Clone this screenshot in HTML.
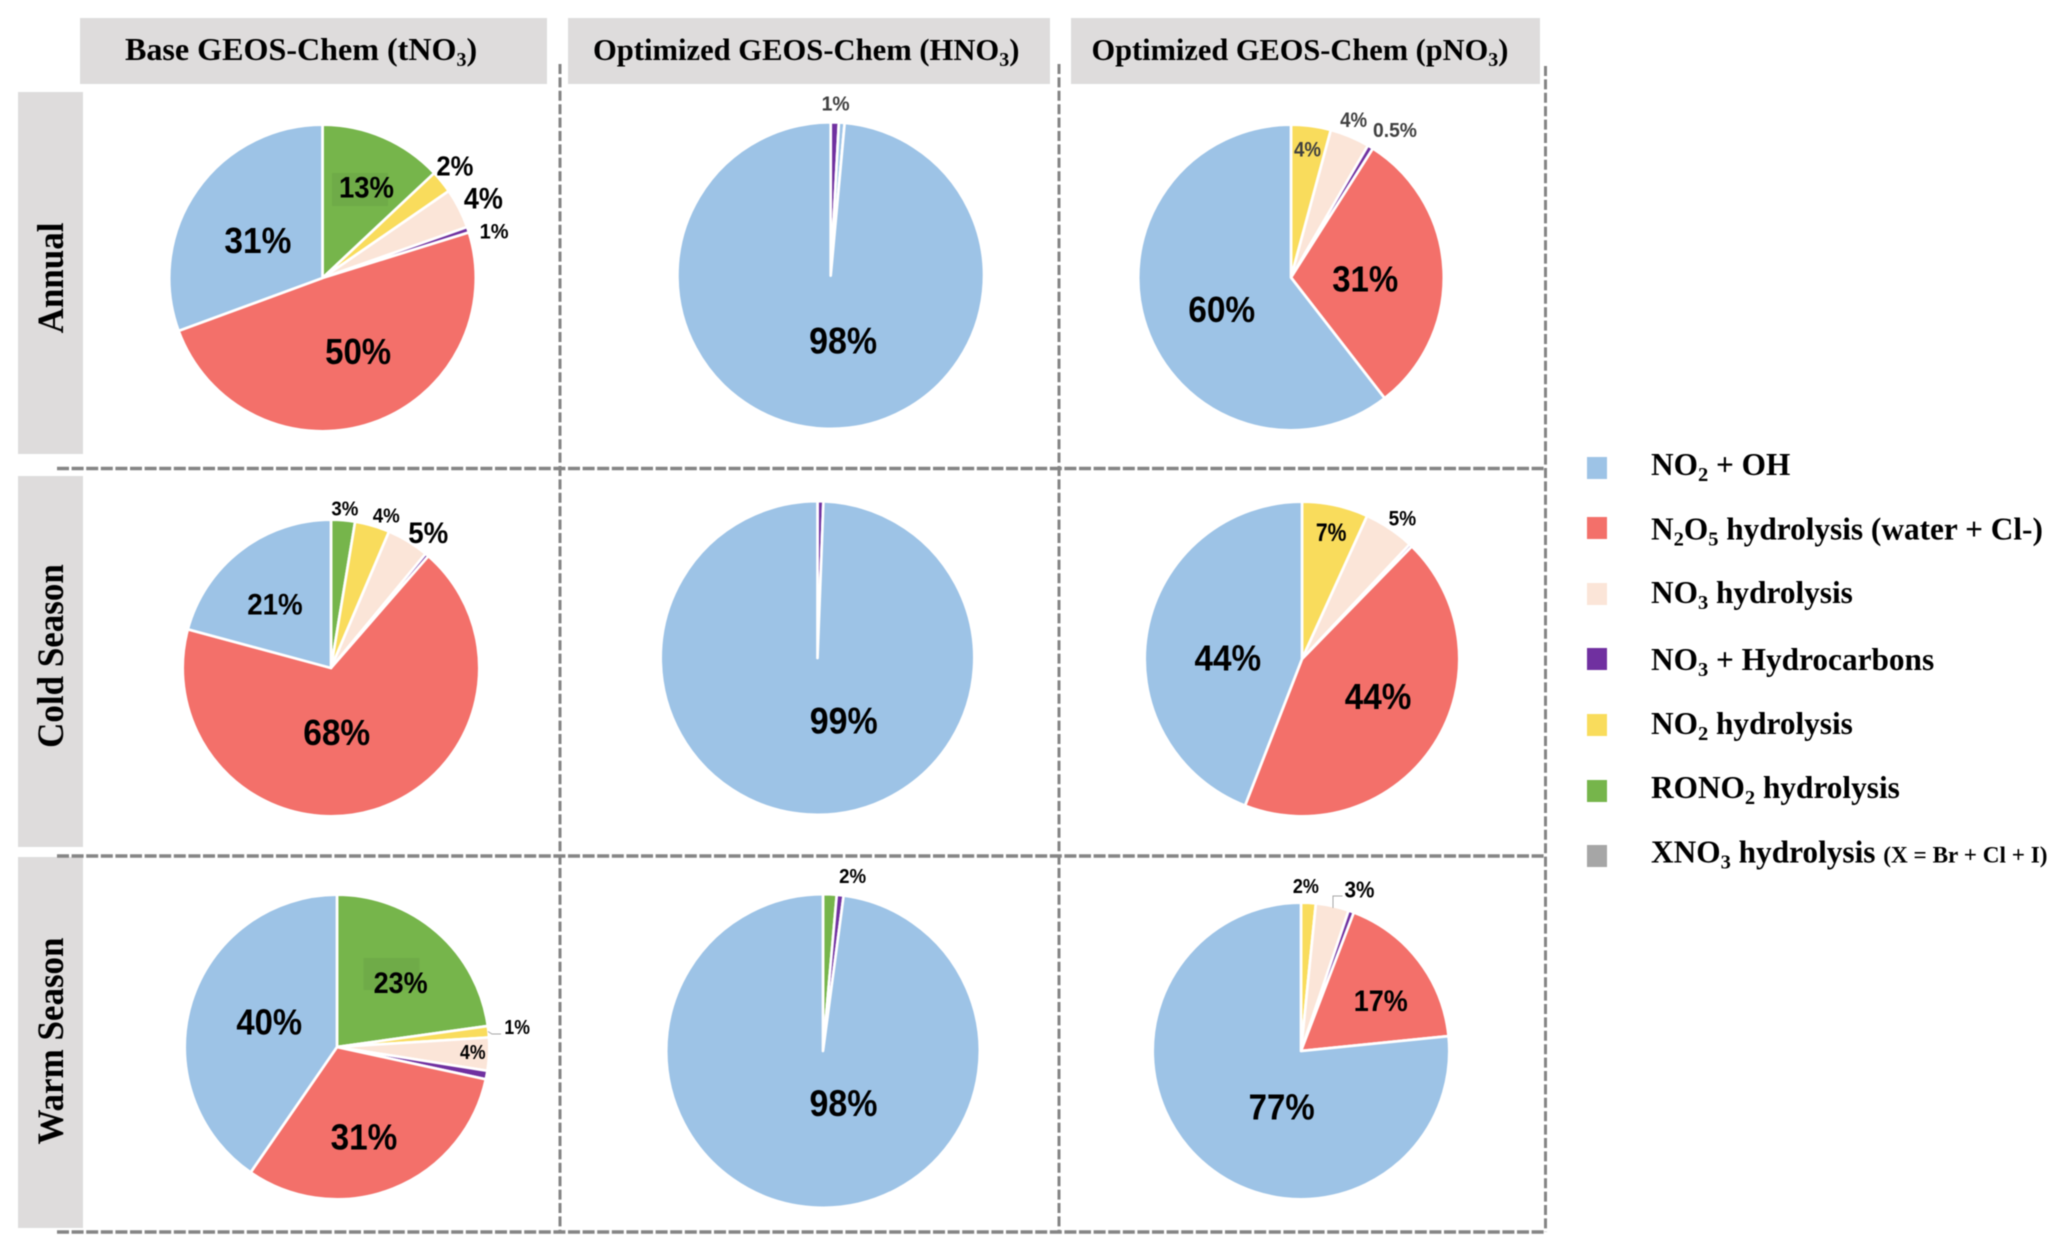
<!DOCTYPE html>
<html lang="en">
<head>
<meta charset="utf-8">
<title>Nitrate formation pathways</title>
<style>
html,body{margin:0;padding:0;background:#fff;width:2067px;height:1253px;overflow:hidden}
svg{display:block;filter:blur(.6px)}
.serif{font-family:"Liberation Serif",serif;font-weight:700;fill:#000}
.pct{font-family:"Liberation Sans",sans-serif;font-weight:700;text-anchor:middle}
</style>
</head>
<body>
<svg id="figure" xmlns="http://www.w3.org/2000/svg" width="2067" height="1253" viewBox="0 0 2067 1253">
  <g>
    <rect x="80" y="18" width="467" height="66" fill="#dedcdc"/>
    <rect x="568" y="18" width="482" height="66" fill="#dedcdc"/>
    <rect x="1071" y="18" width="469" height="66" fill="#dedcdc"/>
    <text class="serif" x="125" y="60" font-size="32.1">Base GEOS-Chem (tNO<tspan dy="6" font-size="20">3</tspan><tspan dy="-6">)</tspan></text>
    <text class="serif" x="593" y="60" font-size="30.6">Optimized GEOS-Chem (HNO<tspan dy="6" font-size="20">3</tspan><tspan dy="-6">)</tspan></text>
    <text class="serif" x="1091.5" y="60" font-size="30.4">Optimized GEOS-Chem (pNO<tspan dy="6" font-size="20">3</tspan><tspan dy="-6">)</tspan></text>
  </g>
  <g>
    <rect x="18" y="92" width="65" height="362" fill="#dedcdc"/>
    <rect x="18" y="476" width="65" height="371" fill="#dedcdc"/>
    <rect x="18" y="857" width="65" height="371" fill="#dedcdc"/>
    <text class="serif" font-size="35" text-anchor="middle" transform="translate(63,278) rotate(-90) scale(1,1.05)">Annual</text>
    <text class="serif" font-size="35" text-anchor="middle" transform="translate(63,656) rotate(-90) scale(1,1.05)">Cold Season</text>
    <text class="serif" font-size="35" text-anchor="middle" transform="translate(63,1041) rotate(-90) scale(1,1.05)">Warm Season</text>
  </g>
  <g stroke="#858585" stroke-width="3.4" fill="none">
    <line x1="57" y1="468.5" x2="1545" y2="468.5" stroke-dasharray="12 2.6"/>
    <line x1="57" y1="856" x2="1545" y2="856" stroke-dasharray="12 2.6"/>
    <line x1="57" y1="1232" x2="1545" y2="1232" stroke-dasharray="12 2.6"/>
    <line x1="560" y1="64" x2="560" y2="1232" stroke-dasharray="10 3.4" stroke-width="3"/>
    <line x1="1059" y1="64" x2="1059" y2="1232" stroke-dasharray="10 3.4" stroke-width="3"/>
    <line x1="1545.5" y1="66" x2="1545.5" y2="1232" stroke-dasharray="10 3.4" stroke-width="3"/>
  </g>
  <g id="slices"></g>
  <rect x="332" y="173" width="56" height="33" fill="#6fab48"/>
  <rect x="363.5" y="958" width="56" height="32" fill="#6fab48"/>
  <polyline points="488,1031.5 492,1034 501,1034" fill="none" stroke="#a6a6a6" stroke-width="1"/>
  <polyline points="1333,908 1333,896 1342.5,896" fill="none" stroke="#a6a6a6" stroke-width="1"/>
  <g id="labels"></g>
  <g>
    <g>
      <rect x="1587" y="457" width="20" height="22" fill="#9dc3e6"/>
      <text class="serif" x="1651" y="475" font-size="31.3">NO<tspan dy="6" font-size="20.5">2</tspan><tspan dy="-6"> + OH</tspan></text>
    </g>
    <g>
      <rect x="1587" y="517" width="20" height="22" fill="#f3706a"/>
      <text class="serif" x="1651" y="539.5" font-size="31.3">N<tspan dy="6" font-size="20.5">2</tspan><tspan dy="-6">O</tspan><tspan dy="6" font-size="20.5">5</tspan><tspan dy="-6"> hydrolysis (water + Cl-)</tspan></text>
    </g>
    <g>
      <rect x="1587" y="583" width="20" height="22" fill="#fbe5d8"/>
      <text class="serif" x="1651" y="603" font-size="31.3">NO<tspan dy="6" font-size="20.5">3</tspan><tspan dy="-6"> hydrolysis</tspan></text>
    </g>
    <g>
      <rect x="1587" y="648" width="20" height="22" fill="#7030a0"/>
      <text class="serif" x="1651" y="670" font-size="31.3">NO<tspan dy="6" font-size="20.5">3</tspan><tspan dy="-6"> + Hydrocarbons</tspan></text>
    </g>
    <g>
      <rect x="1587" y="714" width="20" height="22" fill="#f9dc5c"/>
      <text class="serif" x="1651" y="734" font-size="31.3">NO<tspan dy="6" font-size="20.5">2</tspan><tspan dy="-6"> hydrolysis</tspan></text>
    </g>
    <g>
      <rect x="1587" y="780" width="20" height="22" fill="#76b54b"/>
      <text class="serif" x="1651" y="798" font-size="31.3">RONO<tspan dy="6" font-size="20.5">2</tspan><tspan dy="-6"> hydrolysis</tspan></text>
    </g>
    <g>
      <rect x="1587" y="845" width="20" height="22" fill="#a6a6a6"/>
      <text class="serif" x="1651" y="862.5" font-size="31.3">XNO<tspan dy="6" font-size="20.5">3</tspan><tspan dy="-6"> hydrolysis </tspan><tspan font-size="23.2">(X = Br + Cl + I)</tspan></text>
    </g>
  </g>
</svg>
<script>
// Slice order, clockwise from 12 o'clock.
const categories = ['RONO2 hydrolysis', 'NO2 hydrolysis', 'NO3 hydrolysis', 'NO3 + Hydrocarbons', 'NO2 + OH minor', 'N2O5 hydrolysis', 'NO2 + OH'];

// Series values (percent), one array per pie.
const annualBase = [13, 2.4, 4.2, 0.6, 0, 49.2, 30.6];
const annualHno3 = [0, 0, 0, 0.85, 0.6, 0, 98.55];
const annualPno3 = [0, 4.2, 4.2, 0.6, 0, 30.5, 60.5];
const coldBase = [2.6, 3.8, 4.6, 0.4, 0, 67.8, 20.8];
const coldHno3 = [0, 0, 0, 0.6, 0, 0, 99.4];
const coldPno3 = [0, 6.8, 5.2, 0.3, 0, 43.6, 44.1];
const warmBase = [22.8, 1.2, 3.5, 0.9, 0, 31.2, 40.4];
const warmHno3 = [1.4, 0, 0, 0.7, 0, 0, 97.9];
const warmPno3 = [0, 1.6, 3.6, 0.6, 0, 17.6, 76.6];

// Printed labels, one array per pie.
const annualBaseLabels = ['13%', '2%', '4%', '1%', '', '50%', '31%'];
const annualHno3Labels = ['', '', '', '1%', '', '', '98%'];
const annualPno3Labels = ['', '4%', '4%', '0.5%', '', '31%', '60%'];
const coldBaseLabels = ['3%', '4%', '5%', '', '', '68%', '21%'];
const coldHno3Labels = ['', '', '', '', '', '', '99%'];
const coldPno3Labels = ['', '7%', '5%', '', '', '44%', '44%'];
const warmBaseLabels = ['23%', '1%', '4%', '', '', '31%', '40%'];
const warmHno3Labels = ['2%', '', '', '', '', '', '98%'];
const warmPno3Labels = ['', '2%', '3%', '', '', '17%', '77%'];

// Styling and layout, kept apart from the data above.
const sliceColors = ['#76b54b', '#f9dc5c', '#fbe5d8', '#7030a0', '#9dc3e6', '#f3706a', '#9dc3e6'];
const sliceNames = ['slice-rono2-hydrolysis', 'slice-no2-hydrolysis', 'slice-no3-hydrolysis', 'slice-no3-hydrocarbons', 'slice-no2-oh-minor', 'slice-n2o5-hydrolysis', 'slice-no2-oh'];
const DARK = '#404040';
// Label placement per category: [radius fraction, angle nudge from slice middle, font size, text width, colour]
const pies = [
  {values: annualBase, labels: annualBaseLabels, cx: 322.5, cy: 278, r: 152, spots: {0: [.66, 2.6, 30, 55], 1: [1.14, -1.3, 28, 37], 2: [1.18, .8, 30, 39], 3: [1.17, 3.2, 21, 29], 5: [.54, -7, 36, 66], 6: [.49, -5.1, 36, 67]}},
  {values: annualHno3, labels: annualHno3Labels, cx: 830.7, cy: 275.6, r: 152, spots: {3: [1.13, .1, 20, 28, DARK], 6: [.44, -13.3, 37, 68]}},
  {values: annualPno3, labels: annualPno3Labels, cx: 1291, cy: 277.5, r: 151.5, spots: {1: [.85, -.2, 21, 27, DARK], 2: [1.12, -1, 21, 27, DARK], 3: [1.19, 3.9, 20, 44, DARK], 5: [.49, 4.5, 36, 66], 6: [.505, -6.2, 36, 67]}},
  {values: coldBase, labels: coldBaseLabels, cx: 331, cy: 668, r: 147, spots: {0: [1.086, .3, 20, 27], 1: [1.1, 3.8, 20, 27], 2: [1.13, 4.5, 30, 40], 5: [.444, 11.9, 36, 67], 6: [.576, -4, 30, 55.5]}},
  {values: coldHno3, labels: coldHno3Labels, cx: 817.5, cy: 658, r: 155.5, spots: {6: [.442, -23.5, 37, 68]}},
  {values: coldPno3, labels: coldPno3Labels, cx: 1302, cy: 659, r: 156, spots: {1: [.83, .8, 25, 30.6], 2: [1.107, 1.7, 21, 27.5], 5: [.545, -6.2, 36, 66.6], 6: [.476, -10.2, 36, 66.6]}},
  {values: warmBase, labels: warmBaseLabels, cx: 337, cy: 1047, r: 151, spots: {0: [.596, 3.9, 30, 54], 1: [1.2, -.4, 20, 25.5], 2: [.9, -.4, 20, 25.5], 5: [.625, 5, 36, 66.7], 6: [.477, 2.6, 36, 65.7]}},
  {values: warmHno3, labels: warmHno3Labels, cx: 823, cy: 1051, r: 155.5, spots: {0: [1.14, 7.1, 20, 27], 6: [.365, -24.9, 37, 68]}},
  {values: warmPno3, labels: warmPno3Labels, cx: 1301, cy: 1051, r: 147, spots: {1: [1.12, -1.2, 20, 26], 2: [1.167, 7.7, 23, 30], 5: [.64, 5.4, 30, 54], 6: [.406, -23.2, 36, 66]}}
];

const SVG_NS = 'http://www.w3.org/2000/svg';
const sliceLayer = document.getElementById('slices');
const labelLayer = document.getElementById('labels');

function angleScale(value, total) {
  return value / total * 360;
}
function polar(cx, cy, radius, degrees) {
  const a = degrees * Math.PI / 180;
  return [cx + radius * Math.sin(a), cy - radius * Math.cos(a)];
}

pies.forEach(function (pie) {
  const total = pie.values.reduce(function (s, v) { return s + v; }, 0);
  let running = 0;
  pie.values.forEach(function (value, i) {
    const start = angleScale(running, total);
    const end = angleScale(running + value, total);
    const mid = (start + end) / 2;
    running += value;
    if (value > 0) {
      const outer = pie.r + 1.3;
      const p0 = polar(pie.cx, pie.cy, outer, start);
      const p1 = polar(pie.cx, pie.cy, outer, end);
      const large = end - start > 180 ? 1 : 0;
      const path = document.createElementNS(SVG_NS, 'path');
      path.setAttribute('d', 'M' + pie.cx + ' ' + pie.cy + 'L' + p0[0] + ' ' + p0[1] + 'A' + outer + ' ' + outer + ' 0 ' + large + ' 1 ' + p1[0] + ' ' + p1[1] + 'Z');
      path.setAttribute('fill', sliceColors[i]);
      path.setAttribute('stroke', '#fff');
      path.setAttribute('stroke-width', '2.7');
      path.setAttribute('stroke-linejoin', 'round');
      
      
      sliceLayer.appendChild(path);
    }
    const spot = pie.spots[i];
    if (spot && pie.labels[i]) {
      const pos = polar(pie.cx, pie.cy, spot[0] * pie.r, mid + spot[1]);
      const text = document.createElementNS(SVG_NS, 'text');
      text.setAttribute('class', 'pct');
      text.setAttribute('x', pos[0]);
      text.setAttribute('y', pos[1] + spot[2] * .33);
      text.setAttribute('font-size', spot[2]);
      text.setAttribute('textLength', spot[3]);
      text.setAttribute('lengthAdjust', 'spacingAndGlyphs');
      text.setAttribute('fill', spot[4] || '#000');
      
      
      text.textContent = pie.labels[i];
      labelLayer.appendChild(text);
    }
  });
});
</script>
</body>
</html>
